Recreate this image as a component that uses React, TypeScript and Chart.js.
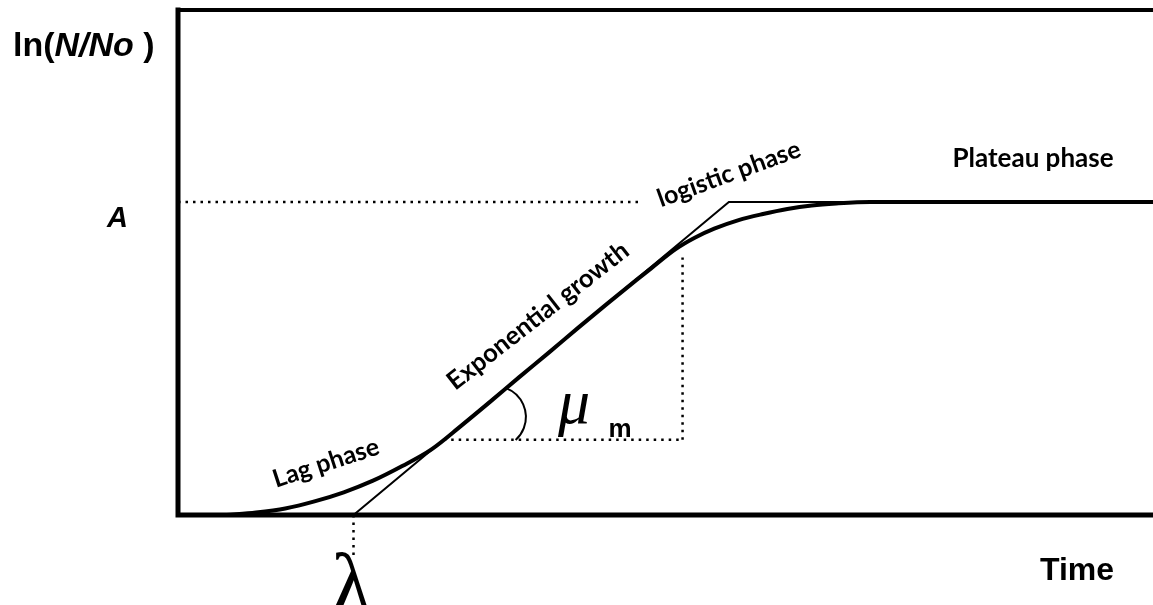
import { useEffect, useRef } from "react";
import { Chart, registerables } from "chart.js";

Chart.register(...registerables);

// Axis ranges (time units, ln(N/No) units)
const timeMax = 20;
const lnMax = 10;

// Growth parameters
const asymptoteA = 6.2;
const lambdaLag = 3.6;

// Growth curve ln(N/No) vs time
const curveTime = [1.0, 1.6, 2.2, 2.8, 3.4, 4.0, 4.6, 5.2, 5.8, 6.4, 7.0, 7.6, 8.2, 8.8, 9.4, 9.7, 10.2, 10.6, 11.0, 11.5, 12.0, 12.5, 13.0, 13.5, 14.2, 20];
const curveLn = [0, 0.05, 0.13, 0.27, 0.45, 0.68, 0.97, 1.3, 1.76, 2.24, 2.73, 3.21, 3.7, 4.18, 4.65, 4.88, 5.26, 5.49, 5.67, 5.84, 5.96, 6.06, 6.13, 6.17, 6.2, 6.2];

// Tangent through the inflection point (slope = mu_m), capped at A
const tangentTime = [3.6, 11.3, 14.2];
const tangentLn = [0, 6.2, 6.2];

// Dotted guides
const asymptoteGuideTime = [0, 9.45];
const muBaseTime = [5.45, 10.35];
const muBaseLn = 1.49;
const muRiseLn = [1.49, 5.1];
const lambdaDropLn = [0, -0.85];

// Angle marker for mu_m
const muArcCenter = { t: 6.5, y: 1.94 };

const phaseLabels = ["Lag phase", "Exponential growth", "logistic phase", "Plateau phase"];

const pts = (xs: number[], ys: number[]) => xs.map((x, i) => ({ x, y: ys[i] }));

export default function App() {
  const ref = useRef<HTMLCanvasElement | null>(null);

  useEffect(() => {
    const canvas = ref.current;
    if (!canvas) return;

    const annotations = {
      id: "growthAnnotations",
      beforeDatasetsDraw(chart: any) {
        const { ctx, chartArea } = chart;
        ctx.save();
        ctx.strokeStyle = "#000";
        ctx.lineCap = "square";
        // frame: top, left and bottom axis lines
        ctx.lineWidth = 4;
        ctx.beginPath();
        ctx.moveTo(chartArea.left, chartArea.top);
        ctx.lineTo(chartArea.right + 5, chartArea.top);
        ctx.stroke();
        ctx.lineWidth = 5;
        ctx.beginPath();
        ctx.moveTo(chartArea.left, chartArea.top);
        ctx.lineTo(chartArea.left, chartArea.bottom);
        ctx.lineTo(chartArea.right + 5, chartArea.bottom);
        ctx.stroke();
        ctx.restore();
      },
      afterDraw(chart: any) {
        const { ctx } = chart;
        const xs = chart.scales.x;
        const ys = chart.scales.y;
        const px = (t: number) => xs.getPixelForValue(t);
        const py = (v: number) => ys.getPixelForValue(v);
        ctx.save();
        ctx.fillStyle = "#000";
        ctx.strokeStyle = "#000";

        // mu_m angle arc
        ctx.lineWidth = 2;
        ctx.beginPath();
        ctx.arc(px(muArcCenter.t), py(muArcCenter.y), 31, (-69 * Math.PI) / 180, (48 * Math.PI) / 180);
        ctx.stroke();

        // axis titles
        ctx.textBaseline = "alphabetic";
        ctx.textAlign = "left";
        let x = 13;
        const yTitle = 56;
        ctx.font = "bold 34px 'Liberation Sans', Arial, sans-serif";
        ctx.fillText("ln(", x, yTitle);
        x += ctx.measureText("ln(").width;
        ctx.font = "italic bold 34px 'Liberation Sans', Arial, sans-serif";
        ctx.fillText("N/No", x, yTitle);
        x += ctx.measureText("N/No").width;
        ctx.font = "bold 34px 'Liberation Sans', Arial, sans-serif";
        ctx.fillText(" )", x, yTitle);

        ctx.font = "italic bold 29px 'Liberation Sans', Arial, sans-serif";
        ctx.textAlign = "right";
        ctx.fillText("A", 128, py(asymptoteA) + 25);

        ctx.font = "bold 32px 'Liberation Sans', Arial, sans-serif";
        ctx.textAlign = "left";
        ctx.fillText("Time", 1040, 580);

        // parameter symbols
        ctx.font = "italic 64px 'Liberation Serif', serif";
        ctx.textAlign = "center";
        ctx.fillText("\u03bc", 574, 423);
        ctx.font = "bold 26px 'Liberation Sans', Arial, sans-serif";
        ctx.fillText("m", 620, 437);
        ctx.font = "84px 'Liberation Serif', serif";
        ctx.fillText("\u03bb", px(lambdaLag) - 2, 612);

        // phase labels
        const drawRot = (text: string, cx: number, cy: number, deg: number, size: number) => {
          ctx.save();
          ctx.translate(cx, cy);
          ctx.rotate((deg * Math.PI) / 180);
          ctx.font = `bold ${size}px Lato, 'Open Sans', sans-serif`;
          ctx.textAlign = "center";
          ctx.textBaseline = "middle";
          ctx.fillText(text, 0, 0);
          ctx.restore();
        };
        drawRot(phaseLabels[0], 326, 463, -18, 25);
        drawRot(phaseLabels[1], 538, 316, -38, 25.5);
        drawRot(phaseLabels[2], 729, 174, -20, 25);
        drawRot(phaseLabels[3], 1033, 159, 0, 26);
        ctx.restore();
      },
    };

    const dotted = { borderColor: "#000", borderWidth: 2.5, borderDash: [2.5, 5], pointRadius: 0, fill: false };

    const chart = new Chart(canvas, {
      type: "line",
      data: {
        datasets: [
          { ...dotted, data: pts(asymptoteGuideTime, [asymptoteA, asymptoteA]) },
          { ...dotted, data: pts(muBaseTime, [muBaseLn, muBaseLn]) },
          { ...dotted, data: pts([muBaseTime[1], muBaseTime[1]], muRiseLn) },
          { ...dotted, data: pts([lambdaLag, lambdaLag], lambdaDropLn), clip: false },
          { data: pts(tangentTime, tangentLn), borderColor: "#000", borderWidth: 2, pointRadius: 0, fill: false, tension: 0 },
          {
            data: pts(curveTime, curveLn),
            borderColor: "#000",
            borderWidth: 4,
            pointRadius: 0,
            fill: false,
            cubicInterpolationMode: "monotone",
          },
        ],
      },
      options: {
        animation: false,
        responsive: false,
        maintainAspectRatio: false,
        layout: { padding: { left: 178, right: 0, top: 10, bottom: 90 } },
        plugins: { legend: { display: false }, tooltip: { enabled: false } },
        scales: {
          x: { type: "linear", min: 0, max: timeMax, display: false },
          y: { type: "linear", min: 0, max: lnMax, display: false },
        },
      },
      plugins: [annotations],
    } as any);

    return () => chart.destroy();
  }, []);

  return (
    <div style={{ position: "absolute", left: 0, top: 0, width: 1153, height: 605, background: "#fff" }}>
      <canvas ref={ref} width={1153} height={605} />
    </div>
  );
}
